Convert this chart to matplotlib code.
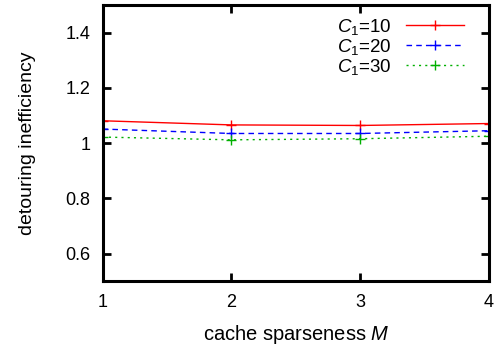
import matplotlib
matplotlib.use("Agg")
import matplotlib.pyplot as plt

plt.rcParams['font.family'] = ['Liberation Sans', 'DejaVu Sans']
plt.rcParams['mathtext.fontset'] = 'custom'
plt.rcParams['mathtext.rm'] = 'Liberation Sans'
plt.rcParams['mathtext.it'] = 'Liberation Sans:italic'

sparseness = [1, 2, 3, 4]
c1_10 = [1.081, 1.066, 1.064, 1.071]
c1_20 = [1.051, 1.035, 1.035, 1.045]
c1_30 = [1.022, 1.012, 1.016, 1.025]
labels = [r'$\mathit{C}_{\mathit{1}}$=10', r'$\mathit{C}_{\mathit{1}}$=20', r'$\mathit{C}_{\mathit{1}}$=30']
yticks = [0.6, 0.8, 1.0, 1.2, 1.4]
ytick_labels = ['0.6', '0.8', '1', '1.2', '1.4']

fig = plt.figure(figsize=(4.96, 3.49), dpi=100)
W, H = 496, 349
ax = fig.add_axes([102.7 / W, 1 - 281.3 / H, (489 - 102.7) / W, (281.3 - 5) / H])

styles = [('#ff0000', '-'), ('#0000ff', (0, (4, 3))), ('#00b000', (0, (1.5, 3)))]
for ys, lab, (col, ls) in zip([c1_10, c1_20, c1_30], labels, styles):
    ax.plot(sparseness, ys, color=col, linestyle=ls, linewidth=1.0,
            marker='+', markersize=7.5, markeredgewidth=1.0, label=lab)

ax.set_xlim(1, 4)
ax.set_ylim(0.5, 1.5)
ax.set_xticks(sparseness)
ax.set_yticks(yticks)
ax.set_yticklabels(ytick_labels)
ax.tick_params(direction='in', top=True, right=True, length=6, width=2,
               labelsize=13, pad=9)
for s in ax.spines.values():
    s.set_linewidth(2.2)

ax.set_xlabel(r'cache sparseness $\mathit{M}$', fontsize=14.5, labelpad=9)
ax.set_ylabel('detouring inefficiency', fontsize=14, labelpad=21)

ax.legend(loc='upper right', frameon=False, markerfirst=False, fontsize=13.5,
          handlelength=3.1, labelspacing=0.0, borderaxespad=0.0,
          handletextpad=0.75, bbox_to_anchor=(0.955, 0.985))

fig.savefig('out.png', dpi=100)
